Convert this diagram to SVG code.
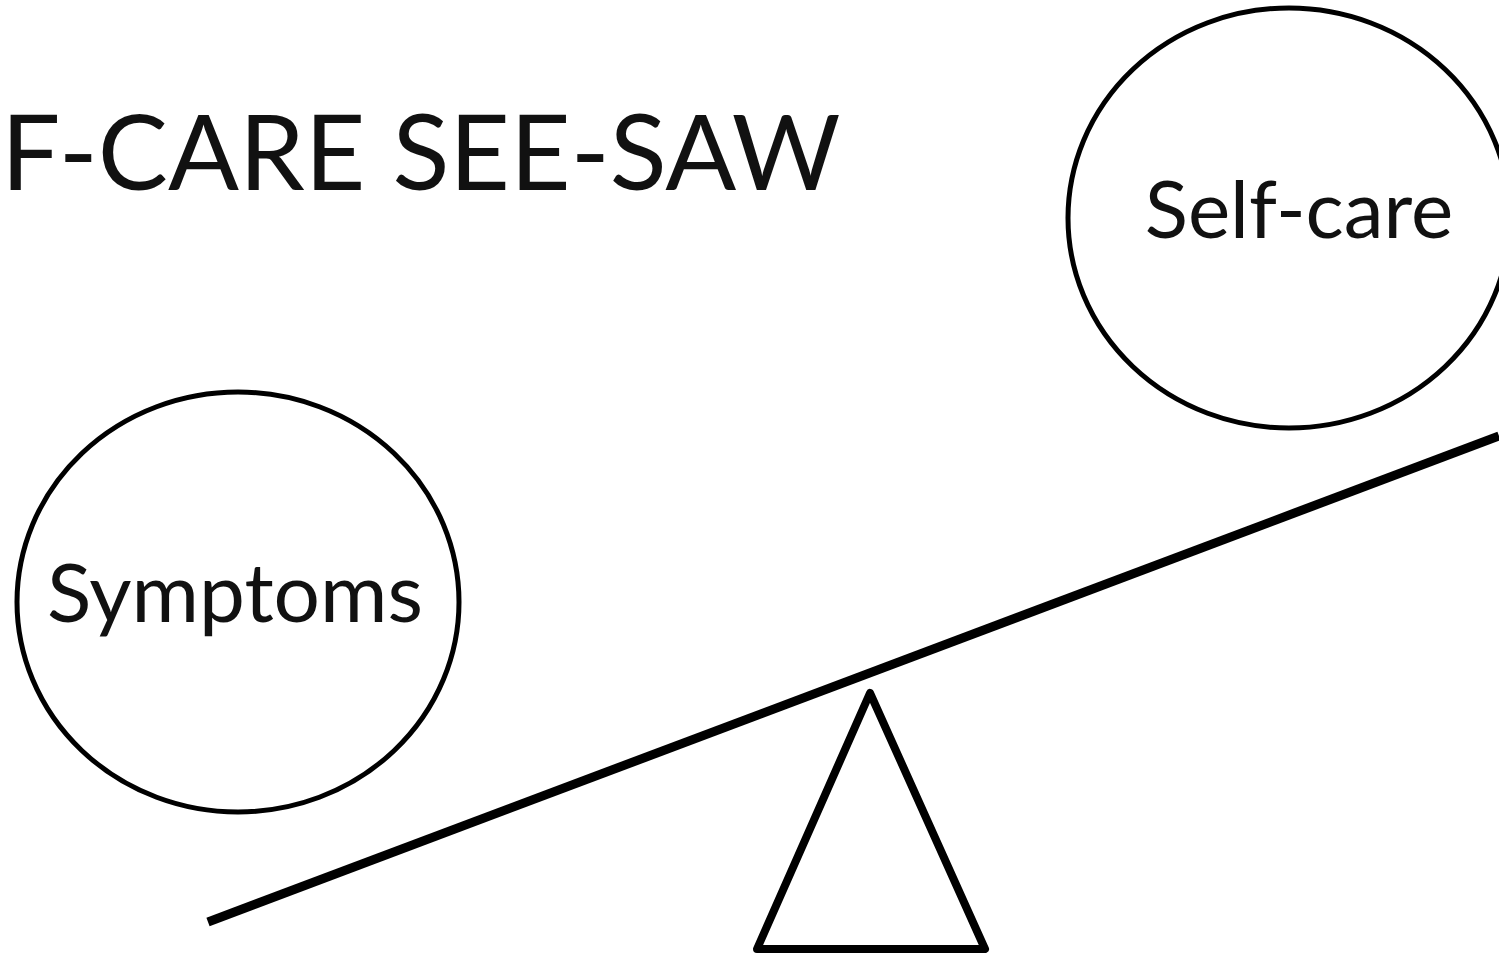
<svg xmlns="http://www.w3.org/2000/svg" width="1499" height="960" viewBox="0 0 1499 960">
<style>
.bg{fill:#fff}
.node ellipse{fill:none;stroke:#000;stroke-width:5}
.lbl{font-family:Lato,"Liberation Sans",sans-serif;fill:#111;text-anchor:middle}
.title{font-family:Lato,"Liberation Sans",sans-serif;fill:#111;font-size:105px}
.beam{stroke:#000;stroke-width:9;fill:none}
.fulcrum{stroke:#000;stroke-width:8;fill:none;stroke-linejoin:round}
</style>
<rect class="bg" x="0" y="0" width="1499" height="960"/>
<text class="title" x="1" y="190">F-CARE SEE-SAW</text>
<g id="selfcare" class="node">
<ellipse cx="1289" cy="218" rx="221" ry="210"/>
<text class="lbl" x="1299" y="238" font-size="80">Self-care</text>
</g>
<g id="symptoms" class="node">
<ellipse cx="238" cy="602" rx="221" ry="210"/>
<text class="lbl" x="235" y="622" font-size="82">Symptoms</text>
</g>
<g id="connectors">
<line class="beam" x1="208" y1="922" x2="1499" y2="436"/>
</g>
<g id="fulcrum">
<polygon class="fulcrum" points="870,693 985,949 757,949"/>
</g>
</svg>
